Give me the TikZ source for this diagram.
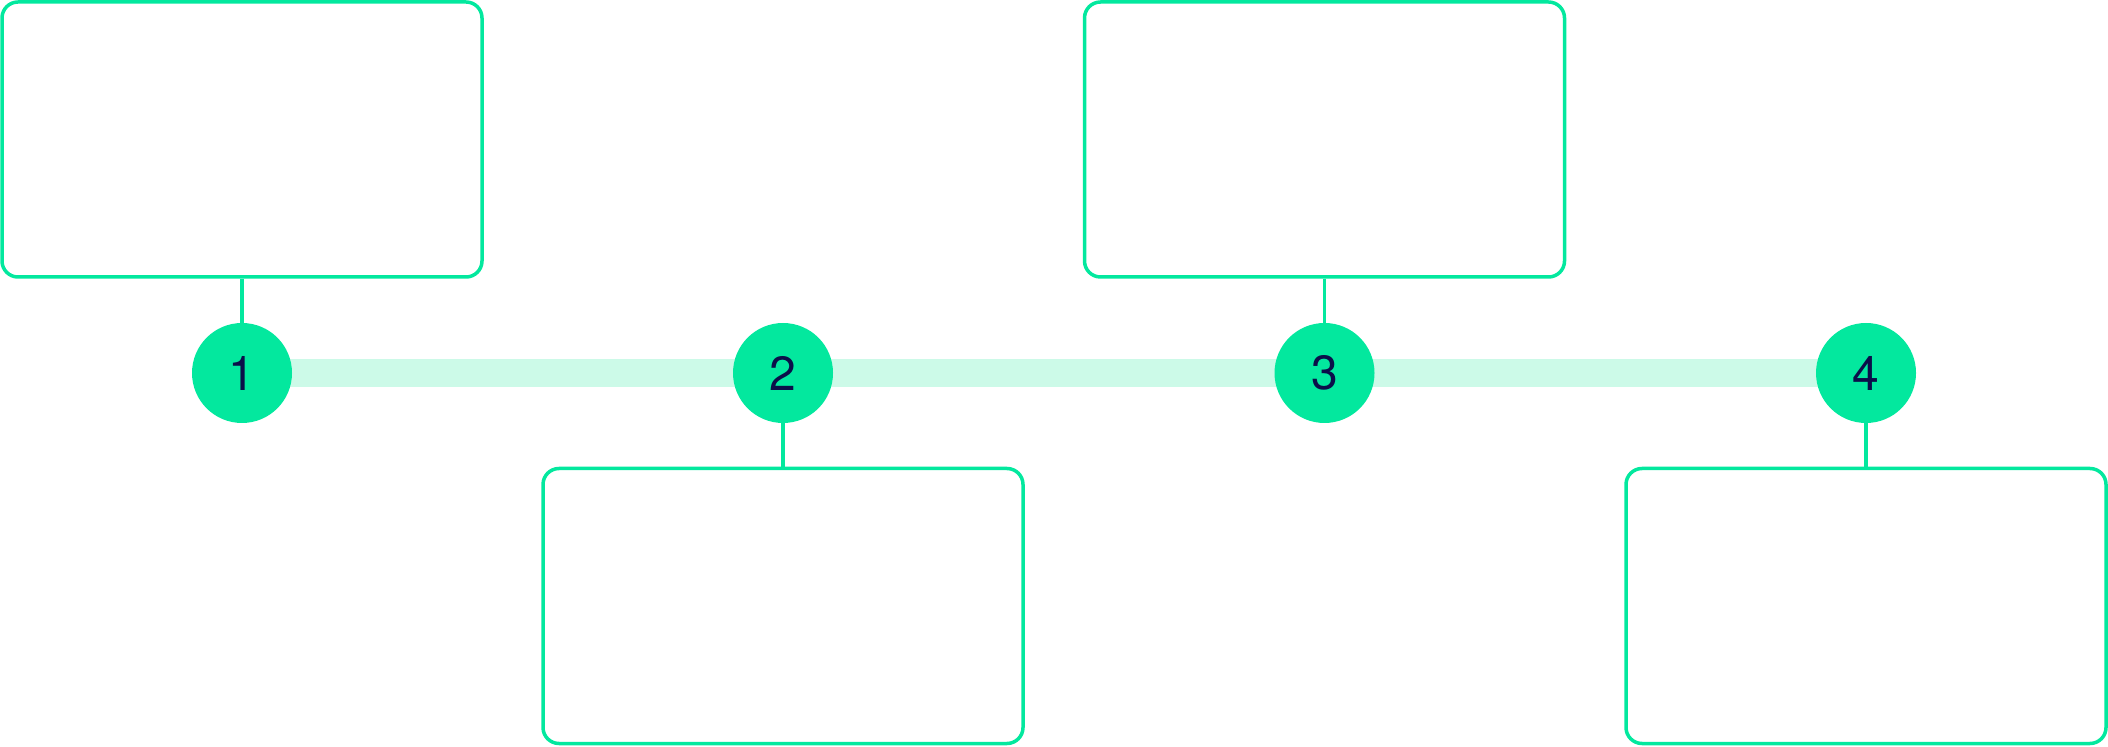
\documentclass[tikz,border=0pt]{standalone}
\usepackage{fontspec}
\setmainfont{TeX Gyre Heros}
\usetikzlibrary{backgrounds}
\definecolor{mint}{HTML}{03E89E}
\definecolor{mintlight}{HTML}{CCFAE8}
\definecolor{navy}{HTML}{0B0F4A}

\begin{document}
\begin{tikzpicture}[x=0.5pt,y=-0.5pt,
  card/.style={draw=mint,line width=1.75pt,rounded corners=8pt,minimum width=240pt,minimum height=137.5pt,inner sep=0pt},
  stepdot/.style={circle,fill=mint,minimum size=50pt,inner sep=0pt,text=navy,font=\fontsize{24}{28}\selectfont},
  stem/.style={draw=mint,line width=1.75pt},
  band/.style={draw=mintlight,line width=14pt}]

  \useasboundingbox (0,0) rectangle (2108,747);

  % Step circles
  \node[stepdot] (s1) at (242,373) {1};
  \node[stepdot] (s2) at (783,373) {2};
  \node[stepdot] (s3) at (1324.5,373) {3};
  \node[stepdot] (s4) at (1866,373) {4};

  % Band behind the circles
  \begin{pgfonlayer}{background}
    \draw[band] (s1.center) -- (s4.center);
  \end{pgfonlayer}

  % Boxes
  \node[card] (b1) at (242,139.5) {};
  \node[card] (b2) at (783,606) {};
  \node[card] (b3) at (1324.5,139.5) {};
  \node[card] (b4) at (1866,606) {};

  % Stems
  \foreach \i in {1,...,4}
    \draw[stem] (b\i) -- (s\i);

\end{tikzpicture}
\end{document}
